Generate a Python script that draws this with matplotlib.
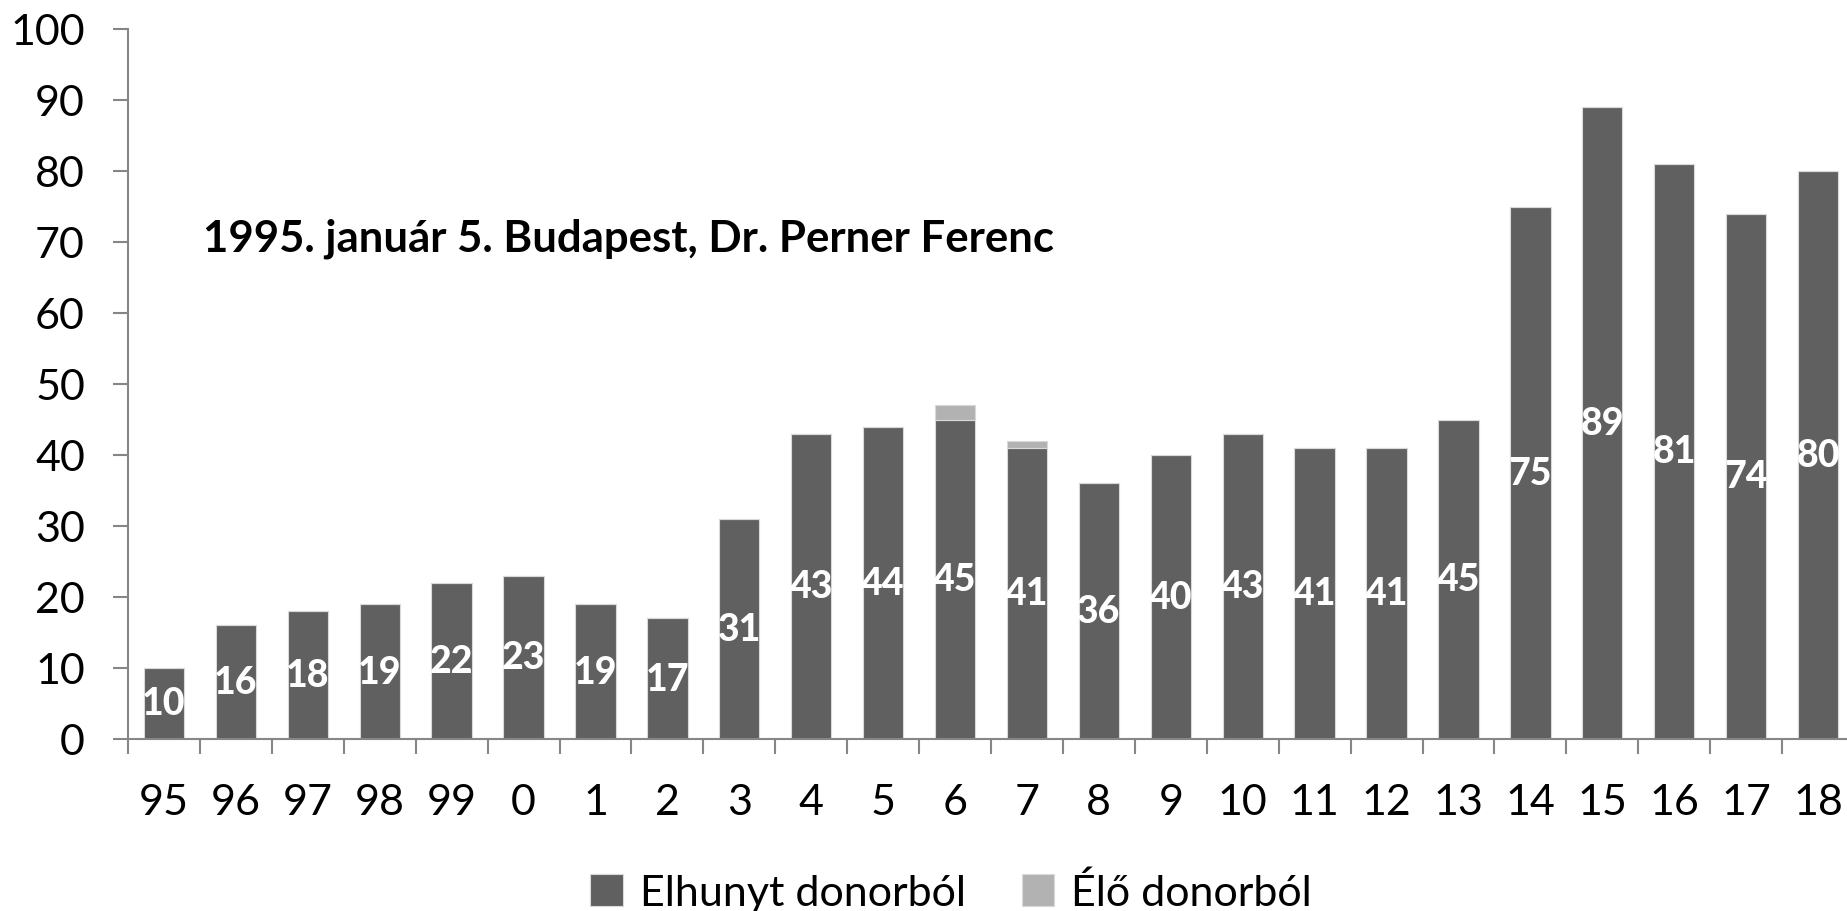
import numpy as np
import matplotlib.pyplot as plt

plt.rcParams['font.family'] = ['Lato', 'DejaVu Sans']

years = ['95', '96', '97', '98', '99', '0', '1', '2', '3', '4', '5', '6',
         '7', '8', '9', '10', '11', '12', '13', '14', '15', '16', '17', '18']
elhunyt = [10, 16, 18, 19, 22, 23, 19, 17, 31, 43, 44, 45,
           41, 36, 40, 43, 41, 41, 45, 75, 89, 81, 74, 80]
elo = [0, 0, 0, 0, 0, 0, 0, 0, 0, 0, 0, 2,
       1, 0, 0, 0, 0, 0, 0, 0, 0, 0, 0, 0]

dark = '#606060'
light = '#b2b2b2'
axcol = '#868686'

fig = plt.figure(figsize=(18.47, 9.12), dpi=100)
ax = fig.add_axes([128 / 1847, 172 / 912, 1726 / 1847, 710 / 912])

x = np.arange(len(years))
b1 = ax.bar(x, elhunyt, width=0.56, color=dark, edgecolor='#d9d9d9', linewidth=0.8,
            label='Elhunyt donorból')
b2 = ax.bar(x, elo, width=0.56, bottom=elhunyt, color=light, edgecolor='#d9d9d9',
            linewidth=0.8, label='Élő donorból')

for xi, v in zip(x, elhunyt):
    ax.text(xi, v / 2, str(v), ha='center', va='center', color='white',
            fontsize=27, fontweight='black')

ax.text(0.0435, 70.6, '1995. január 5. Budapest, Dr. Perner Ferenc',
        transform=ax.get_yaxis_transform(), ha='left', va='center',
        fontsize=31.5, fontweight='bold', color='black')

ax.set_xlim(-0.5, len(years) - 0.5)
ax.set_ylim(0, 100)
ax.set_yticks(range(0, 101, 10))
ax.set_xticks(x)
ax.set_xticklabels(years)
ax.set_xticks(np.arange(-0.5, len(years), 1), minor=True)

for s in ['top', 'right']:
    ax.spines[s].set_visible(False)
for s in ['left', 'bottom']:
    ax.spines[s].set_color(axcol)
    ax.spines[s].set_linewidth(1.5)

ax.tick_params(axis='y', length=11, width=1.5, color=axcol, labelsize=31, pad=20)
ax.tick_params(axis='x', which='major', length=0, labelsize=31, pad=32)
ax.tick_params(axis='x', which='minor', length=11, width=1.5, color=axcol)

fig.legend(handles=[b1, b2], loc='center', bbox_to_anchor=(0.515, 1 - 893 / 912),
           ncol=2, frameon=False, fontsize=31, handlelength=0.75, handleheight=0.75,
           columnspacing=1.3, handletextpad=0.4)

fig.savefig('out.png', dpi=100)
